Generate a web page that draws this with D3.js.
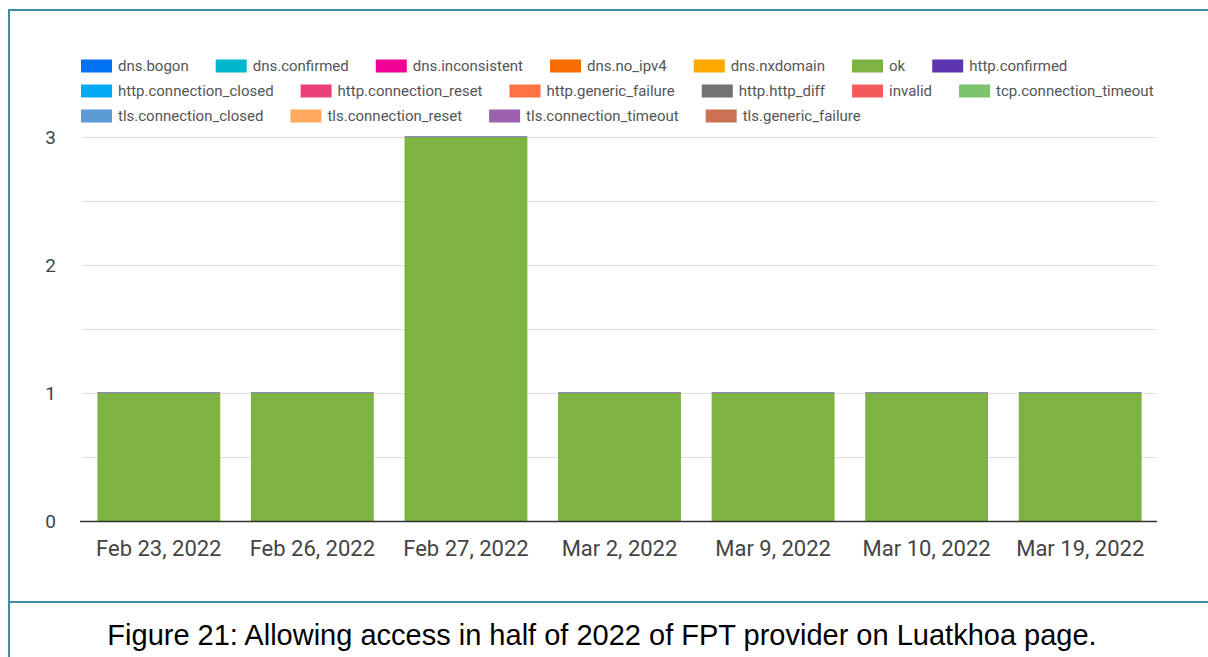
<!DOCTYPE html>
<html>
<head>
<meta charset="utf-8">
<script src="https://cdn.jsdelivr.net/npm/d3@7/dist/d3.min.js"></script>
<style>
  html, body { margin: 0; padding: 0; background: #fff; }
  svg { display: block; }
</style>
</head>
<body>
<svg id="chart" width="1208" height="657"></svg>
<script>
// Measurement dates (x categories)
const dates = ["Feb 23, 2022", "Feb 26, 2022", "Feb 27, 2022", "Mar 2, 2022", "Mar 9, 2022", "Mar 10, 2022", "Mar 19, 2022"];

// Result types shown in the legend, in stacking order
const seriesNames = [
  "dns.bogon", "dns.confirmed", "dns.inconsistent", "dns.no_ipv4", "dns.nxdomain", "ok", "http.confirmed",
  "http.connection_closed", "http.connection_reset", "http.generic_failure", "http.http_diff", "invalid", "tcp.connection_timeout",
  "tls.connection_closed", "tls.connection_reset", "tls.connection_timeout", "tls.generic_failure"
];
const seriesColors = [
  "#0072f0", "#00b6cb", "#f10096", "#f66d00", "#ffa800", "#7cb342", "#5e35b1",
  "#03a9f4", "#ec407a", "#ff7043", "#737373", "#f15b5b", "#7cc36e",
  "#5c9bd5", "#ffa95c", "#9b62b0", "#cc7154"
];

// Counts per date for the series that have data
const okCounts = [1, 1, 3, 1, 1, 1, 1];
const httpConfirmedCounts = [0.005, 0.005, 0.005, 0.005, 0.005, 0.005, 0.005];

// Y axis
const yTicks = [0, 1, 2, 3];
const yGrid = [0.5, 1, 1.5, 2, 2.5, 3];

const caption = "Figure 21: Allowing access in half of 2022 of FPT provider on Luatkhoa page.";

const svg = d3.select("#chart");
const W = 1208, H = 657;

// Frame around the figure
const frameColor = "#3d8ea6";
svg.append("line").attr("x1", 9).attr("x2", W).attr("y1", 10).attr("y2", 10)
  .attr("stroke", frameColor).attr("stroke-width", 2);
svg.append("line").attr("x1", 9).attr("x2", 9).attr("y1", 9).attr("y2", H)
  .attr("stroke", frameColor).attr("stroke-width", 2);
svg.append("line").attr("x1", 9).attr("x2", W).attr("y1", 602).attr("y2", 602)
  .attr("stroke", frameColor).attr("stroke-width", 2);

// Plot area
const plot = { left: 82, right: 1157, top: 137, bottom: 521 };

const x = d3.scaleBand().domain(dates).range([plot.left, plot.right])
  .paddingInner(0.2).paddingOuter(0.1);
const y = d3.scaleLinear().domain([0, 3]).range([plot.bottom, plot.top]);

// Gridlines
svg.append("g").selectAll("line").data(yGrid).join("line")
  .attr("x1", plot.left).attr("x2", plot.right)
  .attr("y1", d => Math.round(y(d)) + 0.5).attr("y2", d => Math.round(y(d)) + 0.5)
  .attr("stroke", "#e0e0e0").attr("stroke-width", 1);

// Stacked data table
const table = dates.map((d, i) => {
  const row = { date: d };
  seriesNames.forEach(s => row[s] = 0);
  row["ok"] = okCounts[i];
  row["http.confirmed"] = httpConfirmedCounts[i];
  return row;
});
const stack = d3.stack().keys(seriesNames)(table);
const color = d3.scaleOrdinal().domain(seriesNames).range(seriesColors);

svg.append("g").selectAll("g").data(stack).join("g")
  .attr("fill", d => color(d.key))
  .selectAll("rect").data(d => d.filter(v => v[1] > v[0])).join("rect")
  .attr("x", d => x(d.data.date))
  .attr("width", x.bandwidth())
  .attr("y", d => y(d[1]))
  .attr("height", d => y(d[0]) - y(d[1]));

// Baseline
svg.append("line").attr("x1", plot.left - 2).attr("x2", plot.right)
  .attr("y1", plot.bottom + 0.5).attr("y2", plot.bottom + 0.5)
  .attr("stroke", "#333").attr("stroke-width", 1.5);

// Y axis labels
const yAxis = d3.axisLeft(y).tickValues(yTicks).tickFormat(d3.format("d")).tickSize(0).tickPadding(0);
const gy = svg.append("g").attr("transform", `translate(${plot.left - 26},0)`).call(yAxis);
gy.select(".domain").remove();
gy.selectAll("text").attr("font-family", "Roboto, sans-serif").attr("font-size", 19)
  .attr("fill", "#444").attr("dy", "0.35em");

// X axis labels
const xAxis = d3.axisBottom(x).tickSize(0).tickPadding(0);
const gx = svg.append("g").attr("transform", `translate(0,${plot.bottom + 19})`).call(xAxis);
gx.select(".domain").remove();
gx.selectAll("text").attr("font-family", "Roboto, sans-serif").attr("font-size", 22)
  .attr("fill", "#444").attr("dy", "0.71em");

// Legend, flowing left to right and wrapping
const legend = svg.append("g");
const legStartX = 81, legMaxX = 1180, legRowY = [66, 91, 116];
const swW = 31, swH = 13, swGap = 6, itemGap = 27;
let lx = legStartX, row = 0;
seriesNames.forEach((name, i) => {
  const t = legend.append("text").text(name)
    .attr("font-family", "Roboto, sans-serif").attr("font-size", 15).attr("fill", "#555")
    .attr("dy", "0.35em");
  const tw = t.node().getComputedTextLength();
  if (lx + swW + swGap + tw > legMaxX) { row += 1; lx = legStartX; }
  const cy = legRowY[row];
  legend.append("rect").attr("x", lx).attr("y", cy - swH / 2).attr("width", swW).attr("height", swH)
    .attr("fill", color(name));
  t.attr("x", lx + swW + swGap).attr("y", cy);
  lx += swW + swGap + tw + itemGap;
});

// Caption
svg.append("text").text(caption)
  .attr("x", 602).attr("y", 645).attr("text-anchor", "middle")
  .attr("font-family", "'Liberation Sans', Arial, sans-serif").attr("font-size", 29)
  .attr("fill", "#000");
</script>
</body>
</html>
